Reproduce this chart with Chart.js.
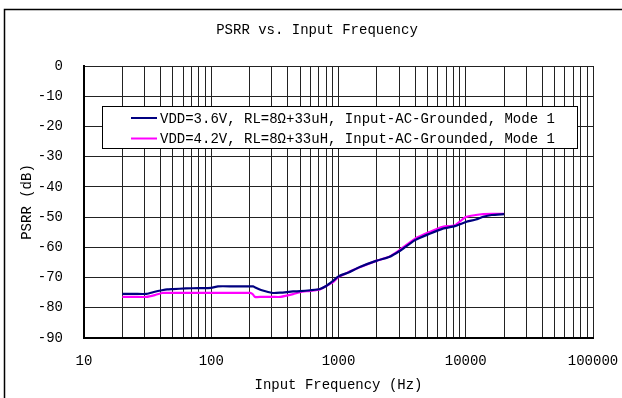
<!DOCTYPE html>
<html>
<head>
<meta charset="utf-8">
<script src="https://cdn.jsdelivr.net/npm/chart.js@4/dist/chart.umd.min.js"></script>
<style>
    body { margin: 0; background: #fff; }
    canvas { display: block; }
</style>
</head>
<body>
<canvas id="psrr" width="622" height="398"></canvas>
<script>
// Chart values
const freqHz = [20, 25, 31, 36, 41, 45, 50, 63, 80, 100, 113, 150, 200, 204, 213, 220, 250, 305, 350, 440, 500, 600, 714, 800, 900, 1000, 1200, 1470, 2000, 2500, 3000, 4000, 5200, 6600, 8200, 10000, 12000, 13700, 16000, 20000];
const psrr36 = [-75.4, -75.4, -75.4, -74.7, -74.2, -73.9, -73.8, -73.6, -73.5, -73.4, -72.9, -72.9, -72.9, -72.9, -72.9, -73.2, -74.2, -75.1, -75.0, -74.6, -74.5, -74.2, -73.8, -72.8, -71.2, -69.6, -68.3, -66.5, -64.4, -63.2, -61.3, -57.6, -55.5, -53.8, -53.0, -51.6, -50.8, -49.9, -49.3, -49.0];
const psrr42 = [-76.4, -76.4, -76.4, -75.8, -75.1, -75.1, -75.1, -75.1, -75.1, -75.1, -75.1, -75.1, -75.1, -75.1, -75.6, -76.4, -76.4, -76.4, -76.4, -75.5, -74.8, -74.4, -73.9, -72.8, -71.6, -69.8, -68.2, -66.6, -64.4, -63.1, -61.0, -57.1, -54.9, -53.2, -52.7, -50.0, -49.3, -49.0, -48.9, -48.9];
const seriesLabels = [
    "VDD=3.6V, RL=8Ω+33uH, Input-AC-Grounded, Mode 1",
    "VDD=4.2V, RL=8Ω+33uH, Input-AC-Grounded, Mode 1"
];
const seriesColors = ["#000080", "#ff00ff"];
const xTickValues = [10, 20, 30, 40, 50, 60, 70, 80, 90, 100, 200, 300, 400, 500, 600, 700, 800, 900, 1000, 2000, 3000, 4000, 5000, 6000, 7000, 8000, 9000, 10000, 20000, 30000, 40000, 50000, 60000, 70000, 80000, 90000, 100000];
const xLabelValues = [10, 100, 1000, 10000, 100000];

const fontFamily = "'Liberation Mono', 'DejaVu Sans Mono', monospace";
const baseFont = { family: fontFamily, size: 14 };

const toPoints = (values) => freqHz.map((f, i) => ({ x: f, y: values[i] }));

// outer frame (top and left edges only, rest is cut off)
const framePlugin = {
    id: "frame",
    beforeDraw(chart) {
        const ctx = chart.ctx;
        ctx.save();
        ctx.strokeStyle = "#000";
        ctx.lineWidth = 1.5;
        ctx.beginPath();
        ctx.moveTo(4.5, 398);
        ctx.lineTo(4.5, 9.5);
        ctx.lineTo(622, 9.5);
        ctx.stroke();
        ctx.restore();
    }
};

// boxed legend inside the plot
const boxLegendPlugin = {
    id: "boxLegend",
    afterDraw(chart) {
        const ctx = chart.ctx;
        const box = { x: 102, y: 106, w: 475, h: 42 };
        ctx.save();
        ctx.fillStyle = "#fff";
        ctx.fillRect(box.x, box.y, box.w, box.h);
        ctx.strokeStyle = "#000";
        ctx.lineWidth = 1;
        ctx.strokeRect(box.x + 0.5, box.y + 0.5, box.w, box.h);
        ctx.font = "14px " + fontFamily;
        ctx.textBaseline = "middle";
        ctx.textAlign = "left";
        chart.data.datasets.forEach((ds, i) => {
            const rowY = box.y + 12 + i * 20.5;
            ctx.strokeStyle = ds.borderColor;
            ctx.lineWidth = 2;
            ctx.beginPath();
            ctx.moveTo(131, rowY);
            ctx.lineTo(157, rowY);
            ctx.stroke();
            ctx.fillStyle = "#000";
            ctx.fillText(ds.label, 160, rowY + 1);
        });
        ctx.restore();
    }
};

new Chart(document.getElementById("psrr"), {
    type: "line",
    data: {
        datasets: [
            {
                label: seriesLabels[0],
                data: toPoints(psrr36),
                borderColor: seriesColors[0],
                borderWidth: 2.2,
                pointRadius: 0,
                tension: 0.2,
                fill: false
            },
            {
                label: seriesLabels[1],
                data: toPoints(psrr42),
                borderColor: seriesColors[1],
                borderWidth: 2.2,
                pointRadius: 0,
                tension: 0.2,
                fill: false
            }
        ]
    },
    options: {
        responsive: false,
        animation: false,
        devicePixelRatio: 1,
        layout: {
            padding: { left: 12, right: 0, top: 0, bottom: 0 }
        },
        plugins: {
            legend: { display: false },
            tooltip: { enabled: false },
            title: {
                display: true,
                text: "PSRR vs. Input Frequency",
                color: "#000",
                font: { family: fontFamily, size: 14, weight: "normal" },
                padding: { top: 22, bottom: 27.2 }
            }
        },
        scales: {
            x: {
                type: "logarithmic",
                min: 10,
                max: 100000,
                afterFit(scale) {
                    scale.height = 60;
                    scale.paddingLeft = 0;
                    scale.paddingRight = 29;
                },
                afterBuildTicks(scale) {
                    scale.ticks = xTickValues.map((v) => ({ value: v }));
                },
                ticks: {
                    autoSkip: false,
                    maxRotation: 0,
                    padding: 15,
                    color: "#000",
                    font: baseFont,
                    callback: (value) => xLabelValues.includes(value) ? String(value) : ""
                },
                grid: {
                    color: "#222",
                    lineWidth: 1,
                    drawTicks: false
                },
                border: { color: "#000", width: 2 },
                title: {
                    display: true,
                    text: "Input Frequency (Hz)",
                    color: "#000",
                    font: baseFont,
                    padding: { top: 0, bottom: 4.6 }
                }
            },
            y: {
                min: -90,
                max: 0,
                afterFit(scale) { scale.width = 72; },
                ticks: {
                    stepSize: 10,
                    padding: 21,
                    color: "#000",
                    font: baseFont
                },
                grid: {
                    color: "#222",
                    lineWidth: 1,
                    drawTicks: false
                },
                border: { color: "#000", width: 2 },
                title: {
                    display: true,
                    text: "PSRR (dB)",
                    color: "#000",
                    font: baseFont,
                    padding: { top: 6.6, bottom: 0 }
                }
            }
        }
    },
    plugins: [framePlugin, boxLegendPlugin]
});
</script>
</body>
</html>
